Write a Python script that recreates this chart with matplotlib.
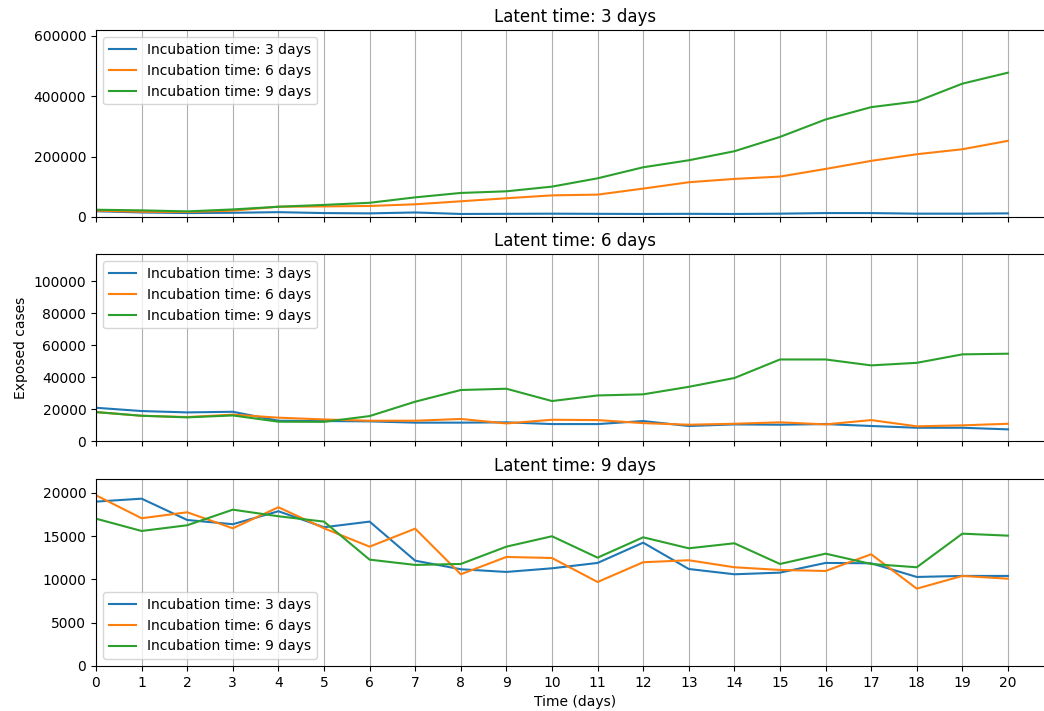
import numpy as np
import matplotlib
matplotlib.use("Agg")
import matplotlib.pyplot as plt

# Tiempo (dias)
days = list(range(21))
incubation = [3, 6, 9]
latent = [3, 6, 9]

# Latent time: 3 days
lat3_inc3 = [19000, 15000, 13000, 14000, 16000, 13000, 12000, 15000, 10000, 10500, 11000,
             10500, 10000, 10500, 10000, 11000, 13000, 13000, 11000, 11000, 12000]
lat3_inc6 = [21000, 17500, 16600, 21000, 34000, 35000, 36500, 42000, 52000, 62000, 71600,
             74000, 94000, 115000, 126000, 133700, 159000, 185700, 207700, 224200, 252000]
lat3_inc9 = [24000, 22000, 18600, 25000, 34000, 40000, 47000, 65000, 79600, 85000, 100500,
             128000, 164500, 187700, 217600, 265000, 322700, 363500, 382400, 441200, 477600]

# Latent time: 6 days
lat6_inc3 = [20800, 18750, 17900, 18300, 12700, 12500, 12300, 11500, 11500, 11700, 10600,
             10600, 12500, 9400, 10400, 10200, 10600, 9400, 8300, 8300, 7300]
lat6_inc6 = [18100, 15800, 15000, 16500, 14600, 13500, 12700, 12700, 13800, 11000, 13300,
             13100, 11200, 10200, 10800, 11700, 10400, 13100, 9200, 9800, 10800]
lat6_inc9 = [18100, 15800, 14800, 16000, 12100, 12000, 15600, 24600, 31900, 32700, 25000,
             28500, 29200, 33900, 39400, 51000, 51000, 47300, 48900, 54200, 54600]

# Latent time: 9 days
lat9_inc3 = [18980, 19320, 16860, 16370, 17870, 16020, 16670, 12160, 11170, 10860, 11280,
             11900, 14240, 11200, 10590, 10780, 11900, 11860, 10280, 10400, 10400]
lat9_inc6 = [19710, 17060, 17750, 15900, 18330, 15900, 13780, 15860, 10590, 12590, 12470,
             9700, 11980, 12210, 11400, 11090, 10970, 12900, 8930, 10400, 10080]
lat9_inc9 = [17010, 15590, 16250, 18050, 17290, 16670, 12280, 11670, 11780, 13780, 14980,
             12510, 14860, 13590, 14170, 11780, 12970, 11780, 11400, 15280, 15050]

series = [
    [lat3_inc3, lat3_inc6, lat3_inc9],
    [lat6_inc3, lat6_inc6, lat6_inc9],
    [lat9_inc3, lat9_inc6, lat9_inc9],
]
ymax = [617600, 116700, 21550]
legend_loc = ['upper left', 'upper left', 'lower left']

fig = plt.figure(figsize=(10.44, 7.11), dpi=100)
bottoms = [0.6948, 0.3797, 0.0633]
axes = []
for b in bottoms:
    axes.append(fig.add_axes([96 / 1044, b, 0.9172, 0.2625]))

for i, ax in enumerate(axes):
    for j, inc in enumerate(incubation):
        ax.plot(days, series[i][j], label=f'Incubation time: {inc} days')
    ax.set_title(f'Latent time: {latent[i]} days')
    ax.set_xlim(0, 21)
    ax.set_ylim(0, ymax[i])
    ax.set_xticks(days)
    ax.grid(axis='x')
    ax.legend(loc=legend_loc[i])
    if i < 2:
        ax.tick_params(labelbottom=False)

axes[1].set_ylabel('Exposed cases')
axes[2].set_xlabel('Time (days)')

fig.savefig('out.png', dpi=100)
